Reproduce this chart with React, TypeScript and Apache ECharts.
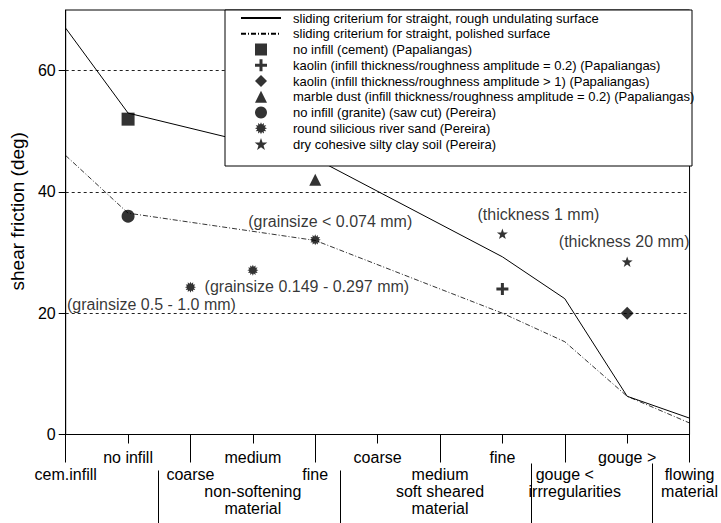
import React, { useEffect, useRef } from 'react';
import * as echarts from 'echarts';

// ---------- data ----------
const xTickLabels = [
  '\ncem.infill',
  'no infill',
  '\ncoarse',
  'medium\n\nnon-softening\nmaterial',
  '\nfine',
  'coarse',
  '\nmedium\nsoft sheared\nmaterial',
  'fine',
  '\ngouge <\n{i|irrregularities}',
  'gouge >',
  '\nflowing\nmaterial',
];
const yTickValues = [0, 20, 40, 60];
const groupSepA = [7.46, 9.41];
const groupSepB = [1.49, 4.4];

const critX = [0, 1, 4, 7, 8, 9, 10];
const roughY = [67, 53, 45.5, 29.3, 22.4, 6.3, 2.7];
const polishedY = [46, 36.5, 32, 20, 15.3, 6.3, 1.9];

const cementX = [1];
const cementY = [52];
const kaolinLowX = [7];
const kaolinLowY = [24];
const kaolinHighX = [9];
const kaolinHighY = [20];
const marbleX = [4];
const marbleY = [42];
const graniteX = [1];
const graniteY = [36];
const sandX = [2, 3, 4];
const sandY = [24.3, 27.1, 32.1];
const sandNotes = ['(grainsize 0.5 - 1.0 mm)', '(grainsize 0.149 - 0.297 mm)', '(grainsize < 0.074 mm)'];
const clayX = [7, 9];
const clayY = [33.1, 28.5];
const clayNotes = ['(thickness 1 mm)', '(thickness 20 mm)'];

const names = [
  'sliding criterium for straight, rough undulating surface',
  'sliding criterium for straight, polished surface',
  'no infill (cement) (Papaliangas)',
  'kaolin (infill thickness/roughness amplitude = 0.2) (Papaliangas)',
  'kaolin (infill thickness/roughness amplitude > 1) (Papaliangas)',
  'marble dust (infill thickness/roughness amplitude = 0.2) (Papaliangas)',
  'no infill (granite) (saw cut) (Pereira)',
  'round silicious river sand (Pereira)',
  'dry cohesive silty clay soil (Pereira)',
];

// ---------- styles ----------
const sandNoteOffsets = [[-39, 17], [54, 16], [15, -18]];
const clayNoteOffsets = [[36, -19], [-3, -20]];
const FONT = '"Liberation Sans", Arial, Helvetica, sans-serif';

function starPath(points: number, outer: number, inner: number) {
  let d = '';
  for (let i = 0; i < points * 2; i++) {
    const r = i % 2 === 0 ? outer : inner;
    const a = -Math.PI / 2 + (i * Math.PI) / points;
    const px = (10 + r * Math.cos(a)).toFixed(3);
    const py = (10 + r * Math.sin(a)).toFixed(3);
    d += (i === 0 ? 'M' : 'L') + px + ',' + py;
  }
  return 'path://' + d + 'Z';
}
const STAR = starPath(5, 10, 4);
const BURST = starPath(12, 10, 6.5);
const PLUS = 'path://M4.5,0h3v4.5h4.5v3h-4.5v4.5h-3v-4.5h-4.5v-3h4.5z';
const SQUARE = 'path://M0,0H10V10H0Z';
const DIAMOND = 'path://M5,0L10,5L5,10L0,5Z';
const TRIANGLE = 'path://M5,0L10,10H0Z';

const zip = (xs: number[], ys: number[]) => xs.map((x, i) => [x, ys[i]]);

export default function App() {
  const ref = useRef<HTMLDivElement>(null);
  useEffect(() => {
    document.body.style.margin = '0';
    if (!ref.current) return;
    const chart = echarts.init(ref.current, undefined, { renderer: 'svg' });
    const gridLeft = 60, gridTop = 10, gridW = 632, gridH = 424.5;

    const scatter = (name: string, data: any[], symbol: string, size: number | number[]) => ({
      type: 'scatter',
      name,
      data,
      symbol,
      symbolSize: size,
      symbolKeepAspect: true,
      itemStyle: { color: '#000' },
      z: 5,
    });

    const noteLabel = (text: string, off: number[]) => ({
      show: true,
      formatter: text,
      position: 'inside',
      offset: off,
      align: 'center',
      verticalAlign: 'middle',
      fontSize: 16,
      fontFamily: FONT,
      color: '#000',
    });

    const baseX = {
      type: 'value',
      min: 0,
      max: 10,
      gridIndex: 0,
      position: 'bottom',
      splitLine: { show: false },
    };

    chart.setOption({
      animation: false,
      backgroundColor: '#fff',
      textStyle: { fontFamily: FONT, color: '#000' },
      grid: {
        left: gridLeft,
        top: gridTop,
        width: gridW,
        height: gridH,
        show: true,
        borderColor: '#000',
        borderWidth: 1,
        backgroundColor: 'transparent',
      },
      xAxis: [
        {
          ...baseX,
          interval: 1,
          axisLine: { show: true, lineStyle: { color: '#000', width: 1 } },
          axisTick: { show: true, length: 9, lineStyle: { color: '#000' } },
          axisLabel: {
            show: true,
            margin: 14,
            fontSize: 16,
            lineHeight: 17,
            color: '#000',
            fontFamily: FONT,
            showMinLabel: true,
            showMaxLabel: true,
            formatter: (v: number) => xTickLabels[Math.round(v)] ?? '',
            rich: {
              i: { fontSize: 16, lineHeight: 17, color: '#000', fontFamily: FONT, padding: [0, 0, 0, 20] },
            },
          },
        },
        {
          ...baseX,
          interval: 2,
          axisLine: { show: false },
          axisTick: { show: true, length: 28, lineStyle: { color: '#000' } },
          axisLabel: { show: false },
        },
        {
          ...baseX,
          offset: 29,
          axisLine: { show: false },
          axisTick: { show: true, length: 61, customValues: groupSepA, lineStyle: { color: '#000' } },
          axisLabel: { show: false },
        },
        {
          ...baseX,
          offset: 36,
          axisLine: { show: false },
          axisTick: { show: true, length: 54, customValues: groupSepB, lineStyle: { color: '#000' } },
          axisLabel: { show: false },
        },
      ],
      yAxis: {
        type: 'value',
        min: 0,
        max: 70,
        interval: 20,
        name: 'shear friction (deg)',
        nameLocation: 'middle',
        nameRotate: 90,
        nameGap: 30,
        nameTextStyle: { fontSize: 19, color: '#000', fontFamily: FONT, padding: [0, 0, 0, 22] },
        axisLine: { show: true, lineStyle: { color: '#000', width: 1 } },
        axisTick: { show: true, length: 7, customValues: yTickValues, lineStyle: { color: '#000' } },
        axisLabel: {
          margin: 10,
          fontSize: 16,
          color: '#000',
          fontFamily: FONT,
          customValues: yTickValues,
        },
        splitLine: { show: true, lineStyle: { color: '#222', width: 1, type: [3, 3] } },
      },
      legend: {
        orient: 'vertical',
        left: 240,
        top: 11,
        z: 20,
        padding: 0,
        itemWidth: 40,
        itemHeight: 12,
        itemGap: 1.75,
        textStyle: { fontSize: 13, lineHeight: 14, color: '#000', fontFamily: FONT, padding: [0, 0, 0, 7] },
        data: names,
        selectedMode: false,
      },
      graphic: [
        {
          type: 'rect',
          z: 10,
          shape: { x: 225, y: gridTop, width: gridLeft + gridW - 225, height: 156 },
          style: { fill: '#fff', stroke: '#000', lineWidth: 1 },
        },
      ],
      series: [
        {
          type: 'line',
          name: names[0],
          data: zip(critX, roughY),
          symbol: 'none',
          lineStyle: { color: '#000', width: 1, type: 'solid' },
          itemStyle: { color: 'rgba(0,0,0,0)', borderWidth: 0 },
          z: 3,
        },
        {
          type: 'line',
          name: names[1],
          data: zip(critX, polishedY),
          symbol: 'none',
          lineStyle: { color: '#000', width: 0.8, type: [5, 2, 1, 2] },
          itemStyle: { color: 'rgba(0,0,0,0)', borderWidth: 0 },
          z: 3,
        },
        scatter(names[2], zip(cementX, cementY), SQUARE, 13),
        scatter(names[3], zip(kaolinLowX, kaolinLowY), PLUS, 12),
        scatter(names[4], zip(kaolinHighX, kaolinHighY), DIAMOND, 13),
        scatter(names[5], zip(marbleX, marbleY), TRIANGLE, 12),
        scatter(names[6], zip(graniteX, graniteY), 'circle', 13),
        scatter(
          names[7],
          sandX.map((x, i) => ({ value: [x, sandY[i]], label: noteLabel(sandNotes[i], sandNoteOffsets[i]) })),
          BURST,
          11
        ),
        scatter(
          names[8],
          clayX.map((x, i) => ({ value: [x, clayY[i]], label: noteLabel(clayNotes[i], clayNoteOffsets[i]) })),
          STAR,
          11
        ),
      ],
    });
    return () => chart.dispose();
  }, []);
  return <div ref={ref} style={{ width: 721, height: 523 }} />;
}
